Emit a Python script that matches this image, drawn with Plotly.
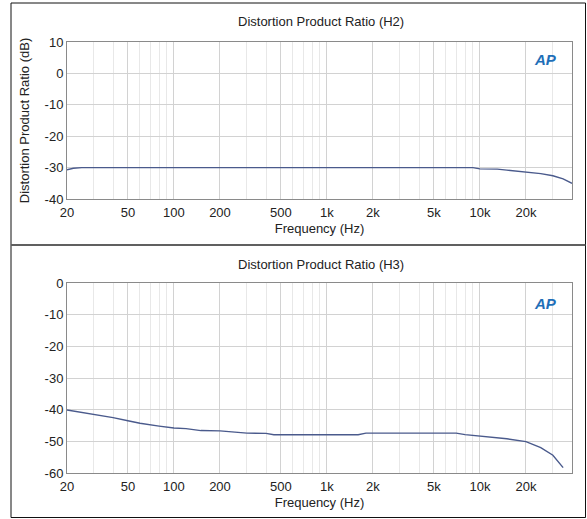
import plotly.graph_objects as go

# ---- data ----
h2_freq = [20, 22, 25, 30, 50, 100, 200, 500, 1000, 2000, 5000, 9000, 10000, 13000, 15000, 20000, 25000, 30000, 35000, 40000]
h2_db = [-30.7, -30.2, -30.0, -30.0, -30.0, -30.0, -30.0, -30.0, -30.0, -30.0, -30.0, -30.0, -30.4, -30.5, -30.8, -31.4, -31.9, -32.6, -33.6, -35.0]

h3_freq = [20, 25, 30, 40, 50, 60, 80, 100, 120, 150, 200, 250, 300, 400, 450, 500, 1000, 1600, 1800, 2000, 5000, 7000, 8000, 10000, 15000, 20000, 25000, 30000, 35000]
h3_db = [-40.1, -40.8, -41.6, -42.5, -43.5, -44.3, -45.2, -45.8, -46.0, -46.6, -46.7, -47.2, -47.4, -47.5, -47.9, -47.9, -47.9, -47.9, -47.4, -47.4, -47.4, -47.4, -47.9, -48.3, -49.2, -50.1, -52.0, -54.4, -58.3]

major_x = [20, 50, 100, 200, 500, 1000, 2000, 5000, 10000, 20000]
major_x_text = ["20", "50", "100", "200", "500", "1k", "2k", "5k", "10k", "20k"]
minor_x = [30, 40, 60, 70, 80, 90, 300, 400, 600, 700, 800, 900, 3000, 4000, 6000, 7000, 8000, 9000, 30000, 40000]

h2_yticks = [10, 0, -10, -20, -30, -40]
h2_ytext = ["10", "0", "-10", "-20", "-30", "-40"]
h3_yticks = [0, -10, -20, -30, -40, -50, -60]
h3_ytext = ["0", "-10", "-20", "-30", "-40", "-50", "-60"]

W, H = 587, 519
LINE = "#4a5a8c"
FONT = "Liberation Sans, Arial, sans-serif"
TXT = "#222222"
FS = 13

def px_x(x):
    return x / W

def px_y(y):
    return 1 - y / H

fig = go.Figure()
fig.add_trace(go.Scatter(x=h2_freq, y=h2_db, mode="lines", line=dict(color=LINE, width=1.4),
                         xaxis="x", yaxis="y", showlegend=False, hoverinfo="skip"))
fig.add_trace(go.Scatter(x=h3_freq, y=h3_db, mode="lines", line=dict(color=LINE, width=1.4),
                         xaxis="x2", yaxis="y2", showlegend=False, hoverinfo="skip"))

xcommon = dict(type="log", range=[1.30103, 4.60206], tickvals=major_x, ticktext=major_x_text,
               showgrid=True, gridcolor="#d2d2d2", gridwidth=1,
               minor=dict(tickvals=minor_x, showgrid=True, gridcolor="#e8e8e8", ticks=""),
               showline=True, linecolor="#8a8a8a", linewidth=1, mirror=True, ticks="",
               tickfont=dict(family=FONT, size=FS, color=TXT), zeroline=False, automargin=False,
               ticklabelstandoff=1,
               title=dict(text="Frequency (Hz)", font=dict(family=FONT, size=FS, color=TXT), standoff=5),
               domain=[px_x(67), px_x(572)])
ycommon = dict(showgrid=True, gridcolor="#d2d2d2", showline=True, linecolor="#8a8a8a", linewidth=1,
               mirror=True, ticks="", zeroline=False, automargin=False,
               tickfont=dict(family=FONT, size=FS, color=TXT))

annot = dict(xref="paper", yref="paper", showarrow=False, xanchor="center", yanchor="middle")

fig.update_layout(
    width=W, height=H, margin=dict(l=0, r=0, t=0, b=0, autoexpand=False),
    paper_bgcolor="white", plot_bgcolor="white",
    xaxis=dict(**xcommon, anchor="y"),
    xaxis2=dict(**xcommon, anchor="y2"),
    yaxis=dict(**ycommon, range=[-40, 10], tickvals=h2_yticks, ticktext=h2_ytext, anchor="x",
               domain=[px_y(199), px_y(42)],
               title=dict(text="Distortion Product Ratio (dB)", font=dict(family=FONT, size=FS, color=TXT), standoff=12)),
    yaxis2=dict(**ycommon, range=[-60, 0], tickvals=h3_yticks, ticktext=h3_ytext, anchor="x2",
                domain=[px_y(473), px_y(283)]),
    font=dict(family=FONT, size=FS, color=TXT),
    annotations=[
        dict(text="Distortion Product Ratio (H2)", x=px_x(321), y=px_y(22),
             font=dict(family=FONT, size=FS, color=TXT), **annot),
        dict(text="Distortion Product Ratio (H3)", x=px_x(321), y=px_y(264),
             font=dict(family=FONT, size=FS, color=TXT), **annot),
        dict(text="<b><i>AP</i></b>", x=px_x(545), y=px_y(60),
             font=dict(family=FONT, size=15, color="#1f6fb8"), **annot),
        dict(text="<b><i>AP</i></b>", x=px_x(545), y=px_y(303),
             font=dict(family=FONT, size=15, color="#1f6fb8"), **annot),
    ],
    shapes=[
        dict(type="rect", xref="paper", yref="paper", x0=px_x(11), x1=px_x(585.5), y0=px_y(517.5), y1=px_y(3),
             line=dict(color="#111111", width=1)),
        dict(type="line", xref="paper", yref="paper", x0=px_x(11), x1=px_x(585.5), y0=px_y(245), y1=px_y(245),
             line=dict(color="#606060", width=2)),
    ],
)

fig.write_html("out.html", config={"displayModeBar": False},
               post_script="document.body.style.margin='0';")
